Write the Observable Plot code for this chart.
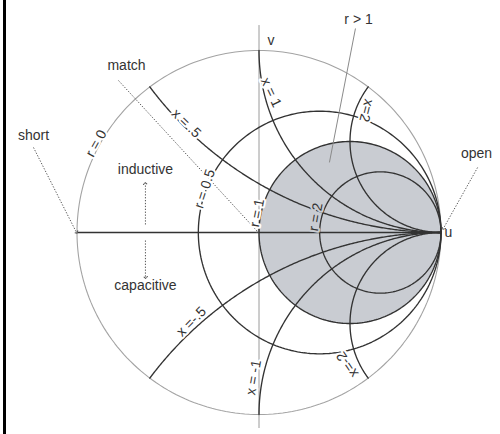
<!DOCTYPE html>
<html>
<head>
<meta charset="utf-8">
<script src="https://cdn.jsdelivr.net/npm/d3@7"></script>
<script src="https://cdn.jsdelivr.net/npm/@observablehq/plot@0.6"></script>
<style>
  html, body { margin: 0; padding: 0; background: #fff; }
  #wrap { position: relative; width: 500px; height: 434px; overflow: hidden; }
  #frame { position: absolute; left: 3px; top: 0; width: 3px; height: 434px; background: #000; z-index: 2; }
  svg { overflow: visible; }
</style>
</head>
<body>
<div id="wrap"><div id="frame"></div><div id="chart"></div></div>
<script>
// Resistance circles and reactance arcs of the Smith chart
const resistances = [0, 0.5, 1, 2];
const reactances = [0.5, 1, 2, -0.5, -1, -2];
const shadedResistance = 1;

// Curve labels
const curveLabelText = ["r = 0", "x = .5", "r = 0.5", "x = 1", "x=2", "r = 1", "r = 2", "x =-.5", "x = -1", "x=-2"];
const curveLabelU = [-0.895, -0.400, -0.298, 0.066, 0.591, -0.010, 0.312, -0.372, -0.030, 0.486];
const curveLabelV = [0.490, 0.600, 0.240, 0.770, 0.670, 0.108, 0.085, -0.490, -0.797, -0.725];
const curveLabelAngle = [-61, 44, -72, 65, 104, -79, -80, -45, -80, -124];

// Annotations
const noteText = ["short", "match", "inductive", "capacitive", "open", "r > 1"];
const noteU = [-1.239, -0.728, -0.624, -0.624, 1.195, 0.547];
const noteV = [0.533, 0.918, 0.346, -0.291, 0.434, 1.170];

// Dotted arrows: start (u1,v1) -> end (u2,v2)
const arrowU1 = [-1.239, -0.772, -0.624, -0.624, 1.201];
const arrowV1 = [0.467, 0.835, 0.044, -0.044, 0.357];
const arrowU2 = [-1.003, -0.008, -0.624, -0.624, 1.013];
const arrowV2 = [0.0, 0.005, 0.269, -0.247, 0.022];

// Pointer for "r > 1"
const pointerU = [0.530, 0.387];
const pointerV = [1.121, 0.385];

// Axis letters
const axisText = ["u", "v"];
const axisU = [1.019, 0.047];
const axisV = [0.0, 1.055];
const axisVExtent = [1.137, -1.077];

// --- geometry of the Smith chart (mapping of constant r / constant x lines)
const N = 240;
const circlePts = [];
for (const r of resistances) {
  const cu = r / (1 + r), rad = 1 / (1 + r);
  for (let i = 0; i <= N; i++) {
    const a = (i / N) * 2 * Math.PI;
    circlePts.push({r, u: cu + rad * Math.cos(a), v: rad * Math.sin(a)});
  }
}
const arcPts = [];
for (const x of reactances) {
  const ax = Math.abs(x);
  const cv = 1 / ax, R = 1 / ax;
  const p0u = (ax * ax - 1) / (ax * ax + 1), p0v = 2 * ax / (ax * ax + 1);
  const a0 = Math.atan2(p0v - cv, p0u - 1);
  const a0n = a0 < 0 ? a0 + 2 * Math.PI : a0;
  const a1 = 1.5 * Math.PI;
  for (let i = 0; i <= N; i++) {
    const a = a0n + (a1 - a0n) * i / N;
    const u = 1 + R * Math.cos(a), v = cv + R * Math.sin(a);
    arcPts.push({x, u, v: x > 0 ? v : -v});
  }
}

const fillGray = "#c9ccd2";
const sc = shadedResistance / (1 + shadedResistance), sr = 1 / (1 + shadedResistance);
const curveLabels = curveLabelText.map((t, i) => {
  const u = curveLabelU[i], v = curveLabelV[i];
  const inside = (u - sc) ** 2 + v ** 2 < sr * sr;
  return {t, u, v, a: curveLabelAngle[i], halo: inside ? fillGray : "white"};
});
const notes = noteText.map((t, i) => ({t, u: noteU[i], v: noteV[i]}));
const arrows = arrowU1.map((d, i) => ({u1: arrowU1[i], v1: arrowV1[i], u2: arrowU2[i], v2: arrowV2[i]}));
const axisLabels = axisText.map((t, i) => ({t, u: axisU[i], v: axisV[i]}));

const font = "Liberation Sans, Arial, Helvetica, sans-serif";
const dark = "#333";

const chart = Plot.plot({
  width: 500,
  height: 434,
  margin: 0,
  x: {domain: [-1, 1], range: [76.5, 440.5], axis: null},
  y: {domain: [-1, 1], range: [414, 50], axis: null},
  style: {background: "white", fontFamily: font},
  marks: [
    Plot.line(circlePts.filter(d => d.r === shadedResistance), {x: "u", y: "v", fill: fillGray, stroke: "none"}),
    Plot.ruleX([0], {y1: axisVExtent[0], y2: axisVExtent[1], stroke: "#9a9a9a", strokeWidth: 1}),
    Plot.ruleY([0], {x1: -1, x2: 1, stroke: dark, strokeWidth: 1.3}),
    Plot.line(circlePts.filter(d => d.r === 0), {x: "u", y: "v", stroke: "#a3a3a3", strokeWidth: 1.1}),
    Plot.line(circlePts.filter(d => d.r > 0), {x: "u", y: "v", z: "r", stroke: dark, strokeWidth: 1.35}),
    Plot.line(arcPts, {x: "u", y: "v", z: "x", stroke: dark, strokeWidth: 1.35}),
    Plot.link([0], {x1: pointerU[0], y1: pointerV[0], x2: pointerU[1], y2: pointerV[1], stroke: "#8a8a8a", strokeWidth: 1}),
    Plot.link(arrows, {x1: "u1", y1: "v1", x2: "u2", y2: "v2", stroke: "#555", strokeWidth: 1, strokeDasharray: "1.3,1.6", markerEnd: "arrow"}),
    Plot.text(curveLabels, {x: "u", y: "v", text: "t", rotate: "a", fontSize: 14, fill: "halo", stroke: "halo", strokeWidth: 4, strokeLinejoin: "round", fontFamily: font}),
    Plot.text(curveLabels, {x: "u", y: "v", text: "t", rotate: "a", fontSize: 14, fill: "#333", fontFamily: font}),
    Plot.text(notes, {x: "u", y: "v", text: "t", fontSize: 14, fill: "#333", fontFamily: font}),
    Plot.text(axisLabels, {x: "u", y: "v", text: "t", textAnchor: "start", fontSize: 14, fill: "#333", fontFamily: font})
  ]
});
document.getElementById("chart").appendChild(chart);
</script>
</body>
</html>
